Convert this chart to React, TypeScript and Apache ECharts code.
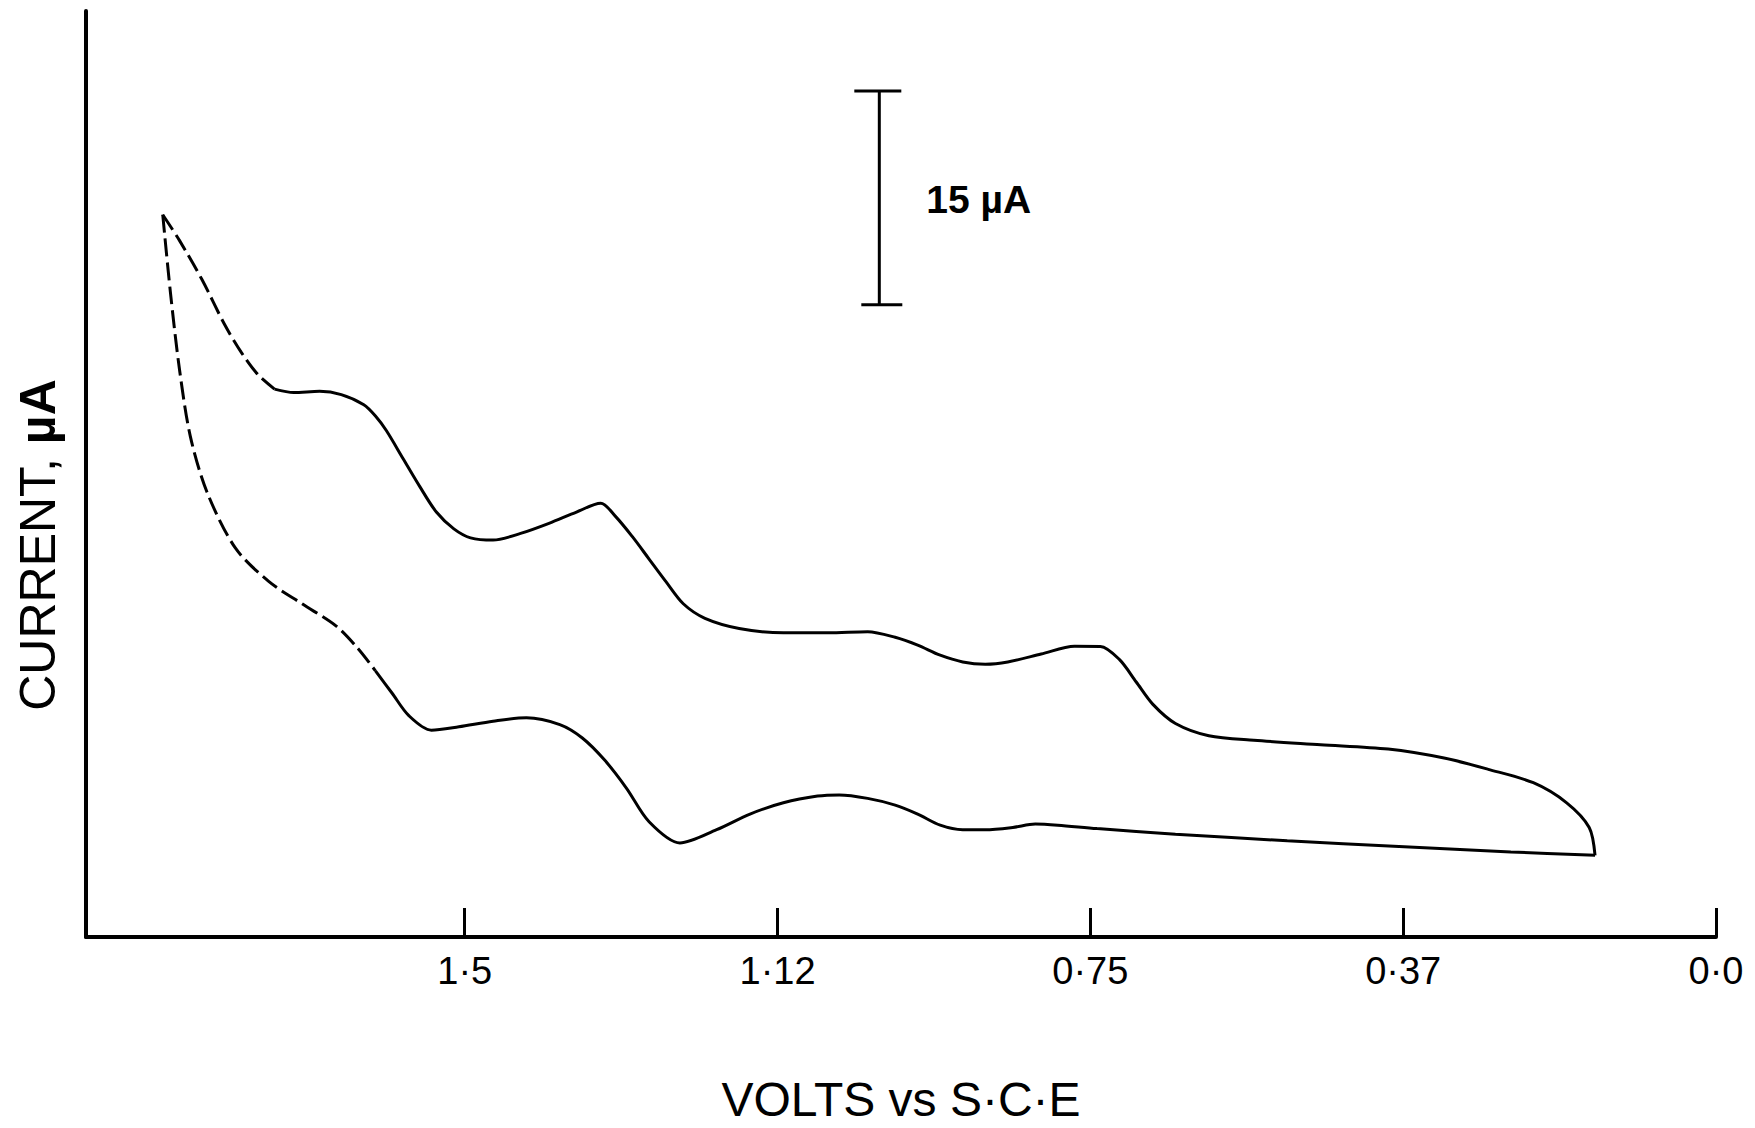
import React, { useEffect, useRef } from "react";
import * as echarts from "echarts";

// Upper sweep of the cyclic voltammogram: potential (V vs S.C.E) and current (µA)
const upperPotential = [
  1.862, 1.842, 1.815, 1.788, 1.768, 1.748, 1.728, 1.705, 1.674, 1.648, 1.621, 1.607,
  1.594, 1.574, 1.554, 1.534, 1.513, 1.493, 1.466, 1.433, 1.399, 1.366, 1.337,
  1.319, 1.299, 1.279, 1.259, 1.238, 1.212, 1.171, 1.118, 1.064, 1.017, 0.984, 0.957,
  0.93, 0.903, 0.876, 0.849, 0.809, 0.769, 0.738, 0.715, 0.695, 0.675, 0.648, 0.608,
  0.554, 0.474, 0.393, 0.326, 0.273, 0.219, 0.179, 0.152, 0.145,
];
const upperCurrent = [
  50.7, 48.9, 46.15, 43.01, 41.05, 39.48, 38.46, 38.22, 38.3, 38.07, 37.36, 36.57,
  35.55, 33.59, 31.63, 29.83, 28.65, 28.02, 27.86, 28.33, 29.04, 29.83, 30.45,
  29.51, 28.1, 26.53, 24.96, 23.39, 22.37, 21.66, 21.35, 21.35, 21.43, 21.04, 20.49,
  19.78, 19.31, 19.15, 19.31, 19.86, 20.41, 20.4, 19.47, 17.9, 16.33, 14.99, 14.13,
  13.81, 13.5, 13.19, 12.56, 11.77, 10.83, 9.42, 7.69, 5.73,
];
// number of leading points of the upper sweep traced with a broken line
const upperDashedCount = 7;

// Lower sweep, from the switching apex back to the right-hand end
const lowerPotential = [
  1.862, 1.853, 1.842, 1.829, 1.809, 1.775, 1.735, 1.695, 1.654, 1.628, 1.607, 1.587,
  1.567, 1.54, 1.507, 1.466, 1.426, 1.386, 1.359, 1.332, 1.306, 1.279, 1.242,
  1.198, 1.158, 1.118, 1.077, 1.051, 1.017, 0.984, 0.957, 0.93, 0.903, 0.876, 0.843,
  0.816, 0.789, 0.742, 0.648, 0.514, 0.38, 0.246, 0.145,
];
const lowerCurrent = [
  50.7, 45.36, 39.87, 35.16, 31.24, 27.31, 24.96, 23.39, 21.82, 20.25, 18.68, 17.11,
  15.54, 14.52, 14.76, 15.15, 15.39, 14.91, 13.97, 12.4, 10.44, 8.09, 6.6,
  7.53, 8.63, 9.42, 9.89, 9.97, 9.73, 9.26, 8.63, 7.85, 7.53, 7.53, 7.69,
  7.93, 7.85, 7.61, 7.22, 6.75, 6.36, 5.97, 5.73,
];
const lowerDashedCount = 11;

// Potential axis ticks and their printed labels
const tickValues = [1.5, 1.125, 0.75, 0.375, 0];
const tickLabels = ["1·5", "1·12", "0·75", "0·37", "0·0"];

// Current scale bar: potential where it stands, bottom current, span (µA)
const scaleBarPotential = 1.003;
const scaleBarBottom = 44.38;
const scaleBarSpan = 15;

const FONT = '"Liberation Sans", Arial, Helvetica, sans-serif';

const zip = (xs: number[], ys: number[]) => xs.map((x, i) => [x, ys[i]]);

export default function App() {
  const ref = useRef<HTMLDivElement | null>(null);

  useEffect(() => {
    if (!ref.current) return;
    const chart = echarts.init(ref.current, undefined, { renderer: "svg" });

    const upper = zip(upperPotential, upperCurrent);
    const lower = zip(lowerPotential, lowerCurrent);

    const curveStyle = { color: "#000", width: 3 };
    const dashStyle = { color: "#000", width: 3, type: [18, 6] as number[] };

    const option: echarts.EChartsOption = {
      animation: false,
      backgroundColor: "#fff",
      grid: { left: 86, right: 39, top: 11, bottom: 190 },
      xAxis: {
        type: "value",
        inverse: true,
        min: 0,
        max: 1.954,
        name: "VOLTS vs S·C·E",
        nameLocation: "middle",
        nameGap: 138,
        nameTextStyle: { fontFamily: FONT, fontSize: 48, color: "#000" },
        axisLine: { show: true, onZero: false, lineStyle: { color: "#000", width: 4 } },
        axisTick: {
          show: true,
          inside: true,
          length: 29,
          customValues: tickValues,
          lineStyle: { color: "#000", width: 3 },
        },
        axisLabel: {
          show: true,
          customValues: tickValues,
          margin: 15,
          fontFamily: FONT,
          fontSize: 38,
          color: "#000",
          formatter: (v: number) => {
            const i = tickValues.findIndex((t) => Math.abs(t - v) < 1e-6);
            return i >= 0 ? tickLabels[i] : "";
          },
        },
        splitLine: { show: false },
      },
      yAxis: {
        type: "value",
        position: "left",
        min: 0,
        max: 65,
        axisLine: { show: true, onZero: false, lineStyle: { color: "#000", width: 4 } },
        axisTick: { show: false },
        axisLabel: { show: false },
        splitLine: { show: false },
      },
      graphic: [
        {
          type: "text",
          x: 38,
          y: 545,
          rotation: Math.PI / 2,
          style: {
            text: "{a|CURRENT, }{b|µA}",
            align: "center",
            verticalAlign: "middle",
            rich: {
              a: { fontFamily: FONT, fontSize: 50, fill: "#000" },
              b: { fontFamily: FONT, fontSize: 50, fontWeight: "bold", fill: "#000" },
            },
          } as any,
        },
      ],
      series: [
        {
          type: "line",
          data: upper.slice(0, upperDashedCount),
          showSymbol: false,
          smooth: 0.3,
          lineStyle: dashStyle,
        },
        {
          type: "line",
          data: upper.slice(upperDashedCount - 1),
          showSymbol: false,
          smooth: 0.3,
          lineStyle: curveStyle,
        },
        {
          type: "line",
          data: lower.slice(0, lowerDashedCount),
          showSymbol: false,
          smooth: 0.3,
          lineStyle: dashStyle,
        },
        {
          type: "line",
          data: lower.slice(lowerDashedCount - 1),
          showSymbol: false,
          smooth: 0.3,
          lineStyle: curveStyle,
        },
        {
          type: "custom",
          data: [[scaleBarPotential, scaleBarBottom, scaleBarBottom + scaleBarSpan]],
          encode: { x: 0, y: [1, 2] },
          renderItem: (_params: any, api: any) => {
            const x = api.value(0);
            const bot = api.coord([x, api.value(1)]);
            const top = api.coord([x, api.value(2)]);
            const stroke = { stroke: "#000", lineWidth: 3 };
            return {
              type: "group",
              children: [
                {
                  type: "line",
                  shape: { x1: top[0], y1: top[1], x2: bot[0], y2: bot[1] },
                  style: stroke,
                },
                {
                  type: "line",
                  shape: { x1: top[0] - 25, y1: top[1], x2: top[0] + 22, y2: top[1] },
                  style: stroke,
                },
                {
                  type: "line",
                  shape: { x1: bot[0] - 18, y1: bot[1], x2: bot[0] + 23, y2: bot[1] },
                  style: stroke,
                },
                {
                  type: "text",
                  x: top[0] + 47,
                  y: (top[1] + bot[1]) / 2 + 2,
                  style: {
                    text: `${scaleBarSpan} µA`,
                    fill: "#000",
                    fontFamily: FONT,
                    fontSize: 39,
                    fontWeight: "bold",
                    align: "left",
                    verticalAlign: "middle",
                  },
                },
              ],
            };
          },
        },
      ],
    };

    chart.setOption(option);
    return () => chart.dispose();
  }, []);

  return (
    <div
      ref={ref}
      style={{ position: "fixed", left: 0, top: 0, width: 1755, height: 1128, background: "#fff" }}
    />
  );
}
